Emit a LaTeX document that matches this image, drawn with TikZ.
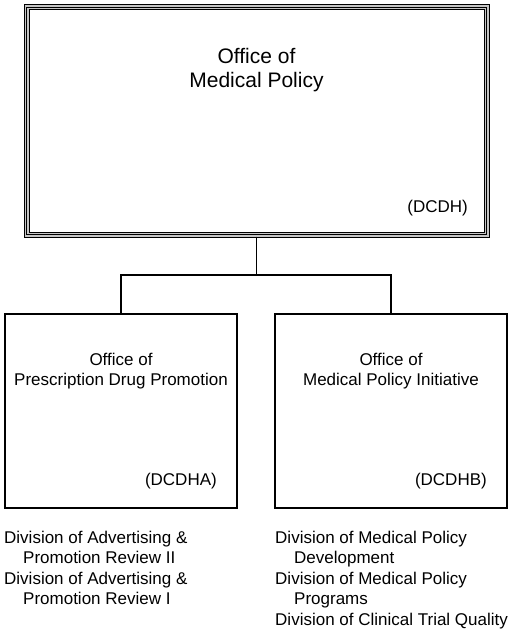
\documentclass[tikz,border=0pt]{standalone}
\usepackage{fontspec}
\setmainfont{Liberation Sans}
\begin{document}
\begin{tikzpicture}[x=1pt,y=1pt,
  box/.style={draw=black, line width=1.3pt, rectangle, inner sep=0pt, outer sep=0pt},
  topbox/.style={draw=black, line width=1pt, double=gray!45, double distance=4pt, rectangle, inner sep=0pt, outer sep=0pt, minimum width=460pt, minimum height=227.7pt},
  childbox/.style={box, minimum width=232pt, minimum height=194pt},
  conn/.style={draw=black, line width=1.5pt},
  big/.style={font=\fontsize{21}{24}\selectfont, inner sep=0pt},
  txt/.style={font=\fontsize{17}{20.5}\selectfont, inner sep=0pt}
]
\useasboundingbox (0,0) rectangle (508,-629);
\fill[white] (0,0) rectangle (508,-629);

% top box
\node[topbox] (top) at (256.5,-120.9) {};
\draw[line width=0.8pt] (top.north west) rectangle (top.south east);
\node[big, anchor=base] (t1) at (256.5,-63) {Office of};
\node[big, anchor=base] (t2) at (256.5,-87) {Medical Policy};
\node[txt, anchor=base east] (t3) at (468,-212) {(DCDH)};

% child boxes
\node[childbox] (a) at (121,-411) {};
\node[childbox] (b) at (391,-411) {};
\node[txt, anchor=base] (a1) at (121,-365) {Office of};
\node[txt, anchor=base] (a2) at (121,-385.5) {Prescription Drug Promotion};
\node[txt, anchor=base east] (a3) at (217,-485) {(DCDHA)};
\node[txt, anchor=base] (b1) at (391,-365) {Office of};
\node[txt, anchor=base] (b2) at (391,-385.5) {Medical Policy Initiative};
\node[txt, anchor=base east] (b3) at (487,-485) {(DCDHB)};

% connectors
\coordinate (tb) at (256.5,-236.5);
\coordinate (jn) at (256.5,-275);
\draw[conn] (tb) -- (jn);
\draw[conn] (jn) -| (a.north);
\draw[conn] (jn) -| (b.north);

% divisions left
\node[txt, anchor=base west] (l1) at (4,-543) {Division of Advertising \&};
\node[txt, anchor=base west] (l2) at (23,-563.5) {Promotion Review II};
\node[txt, anchor=base west] (l3) at (4,-584) {Division of Advertising \&};
\node[txt, anchor=base west] (l4) at (23,-604.5) {Promotion Review I};

% divisions right
\node[txt, anchor=base west] (r1) at (275,-543) {Division of Medical Policy};
\node[txt, anchor=base west] (r2) at (294,-563.5) {Development};
\node[txt, anchor=base west] (r3) at (275,-584) {Division of Medical Policy};
\node[txt, anchor=base west] (r4) at (294,-604.5) {Programs};
\node[txt, anchor=base west] (r5) at (275,-625) {Division of Clinical Trial Quality};
\end{tikzpicture}
\end{document}
